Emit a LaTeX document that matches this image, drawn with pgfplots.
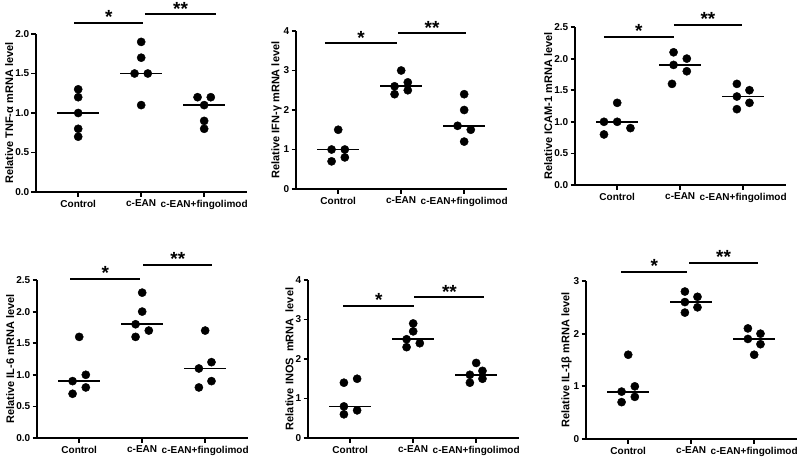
\documentclass[border=0pt]{standalone}
\usepackage{fontspec}
\setmainfont{Liberation Sans}
\usepackage{pgfplots}
\pgfplotsset{compat=1.18}
\newcommand{\tfont}{\fontsize{10}{12}\selectfont\bfseries}
\newcommand{\lfont}{\fontsize{11}{12}\selectfont\bfseries}
\newcommand{\sfont}{\fontsize{19}{19}\selectfont\bfseries}
\pgfplotsset{
  dotplot/.style={
    scale only axis, width=211pt, height=158pt,
    xmin=-0.67, xmax=2.68, ymin=0,
    axis lines=left, axis line style={-, line width=1.8pt, black},
    tick align=outside, major tick length=4.5pt,
    tick style={line width=1.8pt, black},
    xtick={0,1,2}, xticklabels={Control,c-EAN,c-EAN+fingolimod},
    x tick label style={font=\tfont, inner xsep=0pt},
    y tick label style={font=\tfont, inner xsep=2pt},
    ylabel style={font=\lfont, inner sep=0pt},
    /pgf/number format/assume math mode=true,
    clip=false, anchor=south west,
  },
  onedec/.style={yticklabel style={/pgf/number format/.cd, fixed, fixed zerofill, precision=1}},
  pts/.style={only marks, mark=*, mark size=4.1pt, black},
  med/.style={black, line width=1.8pt, no marks},
  sig/.style={black, line width=1.8pt, no marks},
}
\begin{document}
\begin{tikzpicture}
\useasboundingbox (0,-460pt) rectangle (800pt,0);

% Panel 1: TNF-alpha
\begin{axis}[dotplot, onedec, at={(36pt,-192pt)}, ymax=2.0, ytick={0,0.5,1,1.5,2},
  ylabel={Relative TNF-α mRNA level}]
\addplot[pts] coordinates {(0,1.3) (0,1.2) (0,1.0) (0,0.8) (0,0.7)};
\addplot[pts] coordinates {(1,1.9) (1,1.7) (0.895,1.5) (1.105,1.5) (1,1.1)};
\addplot[pts] coordinates {(1.895,1.2) (2.105,1.2) (2,1.1) (2,0.9) (2,0.8)};
\addplot[med] coordinates {(-0.33,1.0) (0.33,1.0)};
\addplot[med] coordinates {(0.67,1.5) (1.33,1.5)};
\addplot[med] coordinates {(1.67,1.1) (2.33,1.1)};
\addplot[sig] coordinates {(-0.06,2.14) (1.03,2.14)};
\addplot[sig] coordinates {(1.06,2.25) (2.19,2.25)};
\node[font=\sfont, anchor=base, inner sep=0pt] at (axis cs:0.485,2.13) {*};
\node[font=\sfont, anchor=base, inner sep=0pt] at (axis cs:1.625,2.24) {**};
\end{axis}

% Panel 2: IFN-gamma
\begin{axis}[dotplot, at={(296pt,-189pt)}, ymax=4, ytick={0,1,2,3,4},
  ylabel={Relative IFN-γ mRNA level}]
\addplot[pts] coordinates {(0,1.5) (-0.105,1.0) (0.105,1.0) (0.105,0.8) (-0.105,0.7)};
\addplot[pts] coordinates {(1,3.0) (1.105,2.7) (0.895,2.6) (1.105,2.5) (0.895,2.4)};
\addplot[pts] coordinates {(2,2.4) (2,2.0) (1.895,1.6) (2.105,1.5) (2,1.2)};
\addplot[med] coordinates {(-0.33,1.0) (0.33,1.0)};
\addplot[med] coordinates {(0.67,2.6) (1.33,2.6)};
\addplot[med] coordinates {(1.67,1.6) (2.33,1.6)};
\addplot[sig] coordinates {(-0.21,3.69) (0.94,3.69)};
\addplot[sig] coordinates {(0.95,3.94) (2.03,3.94)};
\node[font=\sfont, anchor=base, inner sep=0pt] at (axis cs:0.365,3.67) {*};
\node[font=\sfont, anchor=base, inner sep=0pt] at (axis cs:1.49,3.92) {**};
\end{axis}

% Panel 3: ICAM-1
\begin{axis}[dotplot, onedec, at={(575pt,-185pt)}, ymax=2.5, ytick={0,0.5,1,1.5,2,2.5},
  ylabel={Relative ICAM-1 mRNA level}]
\addplot[pts] coordinates {(0,1.3) (-0.21,1.0) (0,1.0) (0.21,0.9) (-0.21,0.8)};
\addplot[pts] coordinates {(0.895,2.1) (1.105,2.0) (0.895,1.9) (1.105,1.8) (0.87,1.6)};
\addplot[pts] coordinates {(1.9,1.6) (2.1,1.5) (1.9,1.4) (2.1,1.3) (1.9,1.2)};
\addplot[med] coordinates {(-0.33,1.0) (0.33,1.0)};
\addplot[med] coordinates {(0.67,1.9) (1.33,1.9)};
\addplot[med] coordinates {(1.67,1.4) (2.33,1.4)};
\addplot[sig] coordinates {(-0.21,2.34) (0.90,2.34)};
\addplot[sig] coordinates {(0.90,2.53) (1.98,2.53)};
\node[font=\sfont, anchor=base, inner sep=0pt] at (axis cs:0.345,2.33) {*};
\node[font=\sfont, anchor=base, inner sep=0pt] at (axis cs:1.44,2.52) {**};
\end{axis}

% Panel 4: IL-6
\begin{axis}[dotplot, onedec, at={(37pt,-438pt)}, ymax=2.5, ytick={0,0.5,1,1.5,2,2.5},
  ylabel={Relative IL-6 mRNA level}]
\addplot[pts] coordinates {(0,1.6) (0.105,1.0) (-0.105,0.9) (0.105,0.8) (-0.105,0.7)};
\addplot[pts] coordinates {(1,2.3) (1,2.0) (0.895,1.8) (1.105,1.7) (0.895,1.6)};
\addplot[pts] coordinates {(2,1.7) (2.1,1.2) (1.9,1.1) (2.1,0.9) (1.9,0.8)};
\addplot[med] coordinates {(-0.33,0.9) (0.33,0.9)};
\addplot[med] coordinates {(0.67,1.8) (1.33,1.8)};
\addplot[med] coordinates {(1.67,1.1) (2.33,1.1)};
\addplot[sig] coordinates {(-0.14,2.52) (0.97,2.52)};
\addplot[sig] coordinates {(1.02,2.74) (2.11,2.74)};
\node[font=\sfont, anchor=base, inner sep=0pt] at (axis cs:0.415,2.51) {*};
\node[font=\sfont, anchor=base, inner sep=0pt] at (axis cs:1.565,2.73) {**};
\end{axis}

% Panel 5: iNOS
\begin{axis}[dotplot, at={(308pt,-438pt)}, ymax=4, ytick={0,1,2,3,4},
  ylabel={Relative INOS\ \ mRNA\ \ level}]
\addplot[pts] coordinates {(0.11,1.5) (-0.1,1.4) (-0.1,0.8) (0.11,0.7) (-0.1,0.6)};
\addplot[pts] coordinates {(1,2.9) (1,2.7) (0.895,2.5) (1.105,2.4) (0.895,2.3)};
\addplot[pts] coordinates {(2,1.9) (2.1,1.7) (1.9,1.6) (2.1,1.5) (1.9,1.4)};
\addplot[med] coordinates {(-0.33,0.8) (0.33,0.8)};
\addplot[med] coordinates {(0.67,2.5) (1.33,2.5)};
\addplot[med] coordinates {(1.67,1.6) (2.33,1.6)};
\addplot[sig] coordinates {(-0.11,3.35) (1.02,3.35)};
\addplot[sig] coordinates {(1.02,3.56) (2.13,3.56)};
\node[font=\sfont, anchor=base, inner sep=0pt] at (axis cs:0.455,3.33) {*};
\node[font=\sfont, anchor=base, inner sep=0pt] at (axis cs:1.575,3.54) {**};
\end{axis}

% Panel 6: IL-1beta
\begin{axis}[dotplot, at={(586pt,-439pt)}, ymax=3, ytick={0,1,2,3},
  ylabel={Relative IL-1β mRNA level}]
\addplot[pts] coordinates {(0,1.6) (0.105,1.0) (-0.105,0.9) (0.105,0.8) (-0.105,0.7)};
\addplot[pts] coordinates {(0.9,2.8) (1.1,2.7) (0.9,2.6) (1.1,2.5) (0.9,2.4)};
\addplot[pts] coordinates {(1.9,2.1) (2.1,2.0) (1.9,1.9) (2.1,1.8) (2,1.6)};
\addplot[med] coordinates {(-0.33,0.9) (0.33,0.9)};
\addplot[med] coordinates {(0.67,2.6) (1.33,2.6)};
\addplot[med] coordinates {(1.67,1.9) (2.33,1.9)};
\addplot[sig] coordinates {(-0.11,3.17) (0.94,3.17)};
\addplot[sig] coordinates {(0.97,3.34) (2.06,3.34)};
\node[font=\sfont, anchor=base, inner sep=0pt] at (axis cs:0.415,3.155) {*};
\node[font=\sfont, anchor=base, inner sep=0pt] at (axis cs:1.515,3.325) {**};
\end{axis}
\end{tikzpicture}
\end{document}
